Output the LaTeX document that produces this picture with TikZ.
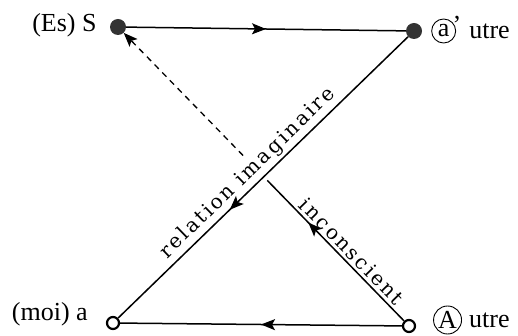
\documentclass[tikz,border=0pt]{standalone}
\usepackage{fontspec}
\setmainfont{Liberation Serif}
\newfontfamily\diagfont[LetterSpace=12]{DejaVu Serif}
\usetikzlibrary{arrows.meta,positioning,calc,decorations.markings}

\begin{document}
\begin{tikzpicture}[
    x=1pt, y=-1pt,
    dot/.style={circle, fill=black!80, inner sep=0pt, minimum size=16pt},
    hole/.style={circle, draw, line width=2.2pt, fill=white, inner sep=0pt, minimum size=12pt},
    lab/.style={inner sep=0pt, font=\fontsize{26}{30}\selectfont},
    ring/.style={draw, circle, line width=0.9pt, inner sep=0pt, minimum size=#1, font=\fontsize{26}{30}\selectfont},
    diag/.style={font=\diagfont\fontsize{20}{24}\selectfont, sloped, anchor=south, inner sep=3pt},
    line/.style={line width=1.5pt},
    mid/.style={postaction={decorate}, decoration={markings, mark=at position #1 with {\arrow{Stealth[length=14pt,width=11pt,inset=3pt]}}}}
]
\useasboundingbox (0,0) rectangle (518,336);

% the four corners
\node[dot] (S) at (118,27) {};
\node[dot] (aprime) at (414,31) {};
\node[hole] (a) at (113,323) {};
\node[hole] (A) at (409,326) {};

% labels
\node[lab, left=13pt of S, yshift=2pt] (Slab) {(Es) S};
\node[lab, left=18pt of a, yshift=9pt] (alab) {(moi) a};
\node[ring=24pt, right=9pt of aprime] (acirc) {a};
\node[lab, anchor=west] (aquote) at ([yshift=-3pt]acirc.north east) {'};
\node[lab, right=13pt of acirc] (autre) {utre};
\node[ring=28pt, right=17pt of A, yshift=6pt] (Acirc) {A};
\node[lab, right=7pt of Acirc] (Autre) {utre};

% cut in the unconscious line
\coordinate (gapend) at ($(A)!0.487!(S)$);
\coordinate (dashstart) at ($(A)!0.57!(S)$);

\draw[line, mid=0.5] (S) -- (aprime);
\draw[line, mid=0.5] (A) -- (a);
\draw[line, mid=0.615] (aprime) -- node[diag, pos=0.52] {relation imaginaire} (a);
\draw[line, mid=0.70] (A) -- node[diag, pos=0.44] {inconscient} (gapend);
\draw[line, line width=1.3pt, dash pattern=on 6pt off 5pt, -{Stealth[length=14pt,width=11pt,inset=3pt]}] (dashstart) -- (S);
\end{tikzpicture}
\end{document}
